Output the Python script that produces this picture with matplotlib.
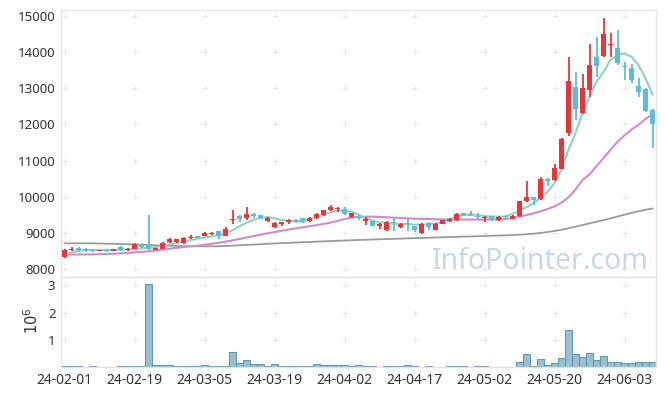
import matplotlib.pyplot as plt
import numpy as np

# daily candles, 24-02-01 .. 24-06-10 (85 trading days)
tick_labels = ['24-02-01', '24-02-19', '24-03-05', '24-03-19', '24-04-02',
               '24-04-17', '24-05-02', '24-05-20', '24-06-03']

opens = [8355, 8535, 8595, 8545, 8540, 8505, 8535, 8505, 8625, 8525,
         8575, 8695, 8655, 8555, 8575, 8755, 8755, 8715, 8870, 8905,
         8925, 8985, 9055, 8925, 9370, 9475, 9405, 9525, 9490, 9330,
         9170, 9240, 9300, 9370, 9410, 9330, 9420, 9490, 9650, 9670,
         9680, 9440, 9480, 9360, 9330, 9220, 9090, 9310, 9165, 9270,
         9185, 9000, 9280, 9090, 9260, 9330, 9350, 9555, 9510, 9470,
         9410, 9465, 9355, 9470, 9390, 9465, 9900, 9990, 9940, 10500,
         10460, 10780, 11760, 13045, 12330, 12950, 13870, 13890, 14200, 14100,
         13610, 13550, 13050, 12980, 12400]
highs = [8560, 8610, 8610, 8585, 8555, 8545, 8560, 8560, 8640, 8590,
         8720, 8715, 9500, 8600, 8750, 8880, 8840, 8890, 8945, 8920,
         9040, 9030, 9070, 9160, 9630, 9490, 9725, 9560, 9510, 9440,
         9300, 9310, 9380, 9380, 9410, 9440, 9560, 9650, 9780, 9720,
         9710, 9560, 9490, 9445, 9340, 9290, 9340, 9420, 9280, 9380,
         9200, 9280, 9300, 9280, 9360, 9410, 9570, 9570, 9600, 9560,
         9480, 9480, 9460, 9510, 9500, 9900, 10440, 10010, 10540, 10510,
         10900, 11620, 13870, 13460, 13380, 14220, 14420, 14930, 14530, 14600,
         13730, 13680, 13270, 13000, 12430]
lows = [8320, 8515, 8485, 8475, 8480, 8495, 8490, 8495, 8510, 8510,
        8560, 8590, 8540, 8530, 8560, 8730, 8740, 8700, 8850, 8870,
        8915, 8960, 8850, 8910, 9260, 9310, 9375, 9410, 9400, 9310,
        9140, 9200, 9260, 9290, 9280, 9320, 9400, 9470, 9620, 9590,
        9490, 9430, 9370, 9220, 9190, 9120, 9055, 9070, 9150, 9070,
        9020, 8990, 9075, 9080, 9250, 9320, 9340, 9470, 9470, 9380,
        9310, 9330, 9340, 9380, 9380, 9450, 9860, 9785, 9920, 10300,
        10440, 10760, 11670, 12130, 12280, 12750, 13320, 13870, 13870, 13640,
        13230, 13150, 12770, 12350, 11350]
closes = [8535, 8575, 8545, 8535, 8495, 8535, 8525, 8555, 8540, 8575,
          8695, 8605, 8555, 8565, 8735, 8845, 8835, 8875, 8905, 8885,
          8995, 8995, 8925, 9105, 9380, 9385, 9525, 9465, 9420, 9420,
          9290, 9300, 9350, 9305, 9315, 9420, 9540, 9630, 9720, 9700,
          9540, 9555, 9430, 9370, 9200, 9230, 9315, 9290, 9260, 9250,
          9075, 9260, 9165, 9260, 9350, 9400, 9540, 9480, 9490, 9460,
          9450, 9375, 9445, 9460, 9480, 9880, 9990, 9920, 10500, 10450,
          10800, 11600, 13210, 12430, 13020, 13640, 13610, 14500, 14230, 13690,
          13590, 13230, 12900, 12380, 12020]

ma5 = [8410, 8465, 8515, 8535, 8535, 8535, 8535, 8535, 8545, 8555,
       8565, 8580, 8595, 8615, 8655, 8690, 8725, 8765, 8810, 8850,
       8880, 8910, 8945, 9000, 9080, 9190, 9290, 9365, 9425, 9445,
       9410, 9365, 9340, 9335, 9345, 9375, 9435, 9510, 9580, 9620,
       9630, 9590, 9510, 9420, 9350, 9300, 9280, 9265, 9260, 9250,
       9235, 9235, 9245, 9265, 9300, 9370, 9450, 9505, 9520, 9500,
       9475, 9460, 9455, 9460, 9530, 9620, 9720, 9820, 9980, 10140,
       10380, 10750, 11300, 11760, 12310, 12770, 13180, 13450, 13780, 13930,
       13960, 13870, 13640, 13270, 12830]
ma20 = [8410, 8410, 8410, 8412, 8415, 8420, 8425, 8432, 8442, 8455,
        8470, 8485, 8500, 8520, 8545, 8570, 8595, 8615, 8635, 8655,
        8680, 8705, 8735, 8765, 8800, 8840, 8880, 8920, 8960, 8995,
        9030, 9065, 9100, 9130, 9160, 9190, 9220, 9255, 9290, 9340,
        9390, 9430, 9450, 9455, 9455, 9450, 9440, 9430, 9420, 9410,
        9400, 9395, 9390, 9385, 9380, 9378, 9376, 9375, 9375, 9376,
        9378, 9380, 9380, 9385, 9420, 9460, 9500, 9545, 9600, 9665,
        9740, 9840, 9990, 10200, 10470, 10620, 10850, 11070, 11300, 11520,
        11700, 11860, 11990, 12150, 12290]
ma60 = [8720, 8720, 8720, 8720, 8720, 8715, 8710, 8705, 8700, 8695,
        8688, 8680, 8672, 8665, 8658, 8652, 8647, 8643, 8640, 8638,
        8637, 8637, 8638, 8645, 8655, 8665, 8675, 8685, 8695, 8705,
        8715, 8725, 8733, 8741, 8749, 8757, 8765, 8773, 8781, 8789,
        8797, 8804, 8811, 8818, 8825, 8832, 8838, 8844, 8850, 8856,
        8862, 8868, 8874, 8880, 8886, 8892, 8898, 8904, 8910, 8916,
        8922, 8928, 8934, 8940, 8948, 8958, 8970, 8985, 9005, 9030,
        9060, 9095, 9135, 9180, 9225, 9270, 9315, 9360, 9410, 9460,
        9510, 9560, 9605, 9645, 9680]

# volume in millions of shares
volume = [0.03, 0.03, 0.03, 0.01, 0.03, 0.01, 0.01, 0.01, 0.03, 0.03,
          0.03, 0.03, 3.05, 0.08, 0.08, 0.08, 0.03, 0.03, 0.03, 0.03,
          0.07, 0.03, 0.02, 0.03, 0.55, 0.15, 0.27, 0.11, 0.11, 0.02,
          0.11, 0.02, 0.02, 0.02, 0.02, 0.02, 0.11, 0.07, 0.07, 0.07,
          0.07, 0.02, 0.07, 0.02, 0.02, 0.0, 0.03, 0.03, 0.03, 0.07,
          0.02, 0.0, 0.02, 0.0, 0.0, 0.02, 0.02, 0.02, 0.0, 0.02,
          0.02, 0.0, 0.0, 0.0, 0.0, 0.19, 0.48, 0.05, 0.30, 0.08,
          0.15, 0.34, 1.37, 0.48, 0.37, 0.52, 0.26, 0.41, 0.19, 0.19,
          0.15, 0.15, 0.19, 0.19, 0.19]

UP = '#ee3338'
DOWN = '#5ebdd6'
FONT = 'Noto Sans'

x = np.arange(len(closes))
o = np.array(opens)
c = np.array(closes)

fig = plt.figure(figsize=(6.65, 3.96), dpi=100)
W, H = 665, 396
ax = fig.add_axes([61 / W, 1 - 277 / H, 595 / W, 267 / H])
axv = fig.add_axes([61 / W, 1 - 367 / H, 595 / W, 90 / H], sharex=ax)

# watermark
ax.text(0.987, 0.03, 'InfoPointer.com', transform=ax.transAxes, ha='right',
        va='baseline', fontsize=20.5, color='#c6d9e4', family=FONT, zorder=0)

# moving averages
ax.plot(x, ma60, color='#9b9b9b', lw=1.3, zorder=2)
ax.plot(x, ma20, color='#cf8ccd', lw=1.5, zorder=2)
ax.plot(x, ma5, color='#90d1c4', lw=1.5, zorder=2)

# candles
colors = [UP if cc >= oo else DOWN for oo, cc in zip(opens, closes)]
ax.vlines(x, lows, highs, colors=colors, lw=1.3, zorder=3)
body = np.maximum(np.abs(c - o), 35)
bottom = np.minimum(o, c)
bottom = np.where(np.abs(c - o) < 35, (o + c) / 2 - 17, bottom)
ax.bar(x, body, bottom=bottom, width=0.68, color=colors, zorder=4)

# volume
axv.bar(x, volume, width=1.0, color='#98c0d0', edgecolor='#5f9bb5', lw=0.8)

ticks = np.arange(0, 81, 10)
yt_price = np.arange(8000, 15001, 1000)
yt_vol = [1, 2, 3]

ax.set_xlim(-0.5, 84.5)
ax.set_ylim(7790, 15160)
axv.set_ylim(0, 3.31)

ax.set_yticks(yt_price)
axv.set_yticks(yt_vol)
axv.set_xticks(ticks)
axv.set_xticklabels(tick_labels)
ax.tick_params(axis='x', labelbottom=False)

for a, yts in ((ax, yt_price), (axv, yt_vol)):
    gx, gy = np.meshgrid(ticks, yts)
    a.plot(gx.ravel(), gy.ravel(), ls='none', marker='+', ms=4.5, mew=0.7,
           color='#e6e6e6', zorder=1)
    a.tick_params(length=0, labelsize=9.5, labelcolor='#333333', pad=4)
    for lab in a.get_yticklabels():
        lab.set_family(FONT)
    for lab in a.get_xticklabels():
        lab.set_family(FONT)
        lab.set_fontsize(10)
    for s in a.spines.values():
        s.set_color('#e4e4e4')
        s.set_linewidth(1)

fig.text(32 / W, 1 - 321 / H, r'$10^6$', rotation=90, ha='center', va='center',
         fontsize=10.5, color='#333333')

plt.savefig('out.png', dpi=100)
